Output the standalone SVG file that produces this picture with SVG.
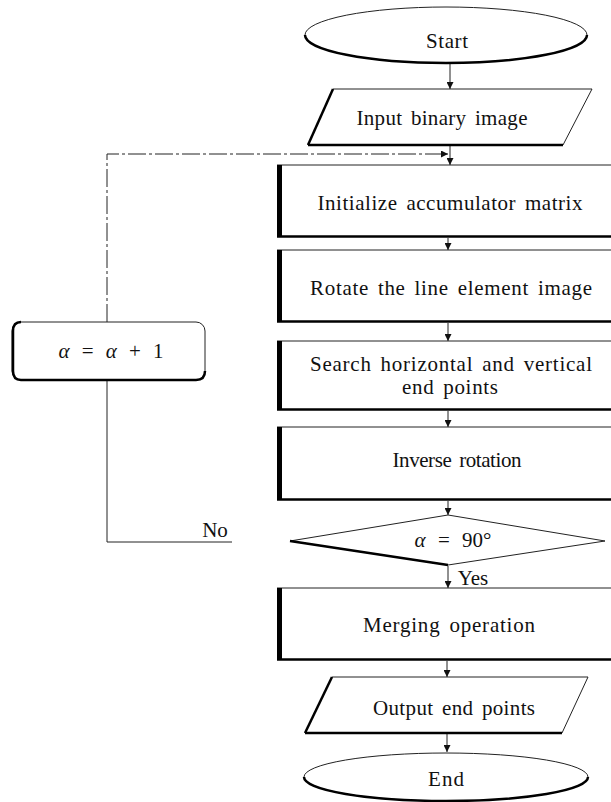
<svg xmlns="http://www.w3.org/2000/svg" width="611" height="802" viewBox="0 0 611 802">
<defs>
<marker id="ah" viewBox="0 0 10 10" refX="10" refY="5" markerWidth="7" markerHeight="7" orient="auto" markerUnits="userSpaceOnUse">
<path d="M0,0 L10,5 L0,10 Z" fill="#111"/>
</marker>
<style>
.t{font-family:"Liberation Serif","Times New Roman",serif;font-size:21px;fill:#111;text-anchor:middle;word-spacing:3px}
.thin{fill:none;stroke:#222;stroke-width:1}
.thick{fill:none;stroke:#000;stroke-width:5}
.med{fill:none;stroke:#000;stroke-width:2.5}
.c{fill:none;stroke:#222;stroke-width:1}
</style>
</defs>
<rect width="611" height="802" fill="#fff"/>

<g id="connectors">
<line class="c" x1="450" y1="63" x2="450" y2="89" marker-end="url(#ah)"/>
<line class="c" x1="450" y1="146" x2="450" y2="165" marker-end="url(#ah)"/>
<polyline class="c" points="107,322 107,154 448,154" stroke="#555" stroke-dasharray="18,3,3,3" marker-end="url(#ah)"/>
<line class="c" x1="448" y1="238" x2="448" y2="250" marker-end="url(#ah)"/>
<line class="c" x1="448" y1="323" x2="448" y2="341" marker-end="url(#ah)"/>
<line class="c" x1="448" y1="411" x2="448" y2="427" marker-end="url(#ah)"/>
<line class="c" x1="448" y1="501" x2="448" y2="515" marker-end="url(#ah)"/>
<line class="c" x1="448" y1="566" x2="448" y2="588" marker-end="url(#ah)"/>
<line class="c" x1="447" y1="661" x2="447" y2="677" marker-end="url(#ah)"/>
<line class="c" x1="447" y1="734" x2="447" y2="752" marker-end="url(#ah)"/>
<polyline class="c" points="232,542 107,542 107,380"/>
<text class="t" x="473" y="585">Yes</text>
<text class="t" x="215" y="537">No</text>
</g>

<g id="start">
<ellipse cx="446" cy="35" rx="141" ry="28" class="thin"/>
<path d="M305,35 A141,28 0 0 0 587,35" class="med" stroke-width="2"/>
<text class="t" x="447" y="48" textLength="42">Start</text>
</g>

<g id="input">
<polygon points="333,89 592,89 563,145 308,145" class="thin"/>
<line x1="333" y1="89" x2="308" y2="145" class="med" stroke-width="3.5"/>
<line x1="308" y1="145" x2="563" y2="145" class="med" stroke-width="2"/>
<text class="t" x="442" y="125" textLength="171" lengthAdjust="spacing">Input binary image</text>
</g>

<g id="init">
<path d="M277,165 H615" class="thin"/>
<path d="M279.5,165 V236" class="thick"/>
<path d="M277,236.5 H615" class="med"/>
<text class="t" x="450" y="210" textLength="265" lengthAdjust="spacing">Initialize accumulator matrix</text>
</g>

<g id="rotate">
<path d="M277,250 H615" class="thin"/>
<path d="M279.5,250 V321" class="thick"/>
<path d="M277,321.5 H615" class="med"/>
<text class="t" x="451" y="295" textLength="282" lengthAdjust="spacing">Rotate the line element image</text>
</g>

<g id="search">
<path d="M277,341 H615" class="thin"/>
<path d="M279.5,341 V409" class="thick"/>
<path d="M277,409.5 H615" class="med"/>
<text class="t" x="451" y="371" font-size="20" textLength="282" lengthAdjust="spacing">Search horizontal and vertical</text>
<text class="t" x="450" y="394" font-size="20" textLength="96" lengthAdjust="spacing">end points</text>
</g>

<g id="inverse">
<path d="M277,427 H615" class="thin"/>
<path d="M279.5,427 V499" class="thick"/>
<path d="M277,499.5 H615" class="med"/>
<text class="t" x="457" y="467" textLength="129" lengthAdjust="spacing">Inverse rotation</text>
</g>

<g id="decision">
<polygon points="448,515 605,541 448,565 290,541" class="thin"/>
<line x1="290" y1="541" x2="448" y2="565" class="med" stroke-width="3"/>
<text class="t" x="453" y="547" style="word-spacing:7px"><tspan font-style="italic">α</tspan> = 90°</text>
</g>

<g id="merge">
<path d="M277,588 H615" class="thin"/>
<path d="M279.5,588 V659" class="thick"/>
<path d="M277,659.5 H615" class="med"/>
<text class="t" x="449" y="632" textLength="172" lengthAdjust="spacing">Merging operation</text>
</g>

<g id="output">
<polygon points="332,677 588,677 562,733 305,733" class="thin"/>
<line x1="332" y1="677" x2="305" y2="733" class="med" stroke-width="3.5"/>
<line x1="305" y1="733" x2="562" y2="733" class="med" stroke-width="2"/>
<text class="t" x="454" y="715" textLength="162" lengthAdjust="spacing">Output end points</text>
</g>

<g id="end">
<ellipse cx="446" cy="777" rx="142" ry="24" class="thin"/>
<path d="M304,777 A142,24 0 0 0 588,777" class="med" stroke-width="2"/>
<text class="t" x="446" y="786" textLength="36">End</text>
</g>

<g id="increment">
<rect x="12" y="322" width="193" height="58" rx="9" class="thin"/>
<path d="M21,322 Q13,322 13,331 V371 Q13,380 21,380 H196 Q205,380 205,371" class="med" stroke-width="2.5"/>
<text class="t" x="111" y="358" font-size="20" style="word-spacing:7px"><tspan font-style="italic">α</tspan> = <tspan font-style="italic">α</tspan> + 1</text>
</g>
</svg>
